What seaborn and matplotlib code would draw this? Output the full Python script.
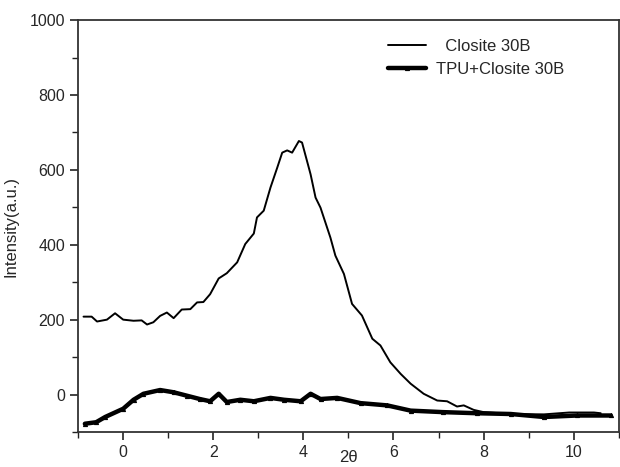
import matplotlib
matplotlib.use("Agg")
import matplotlib.pyplot as plt
import numpy as np
import pandas as pd
import seaborn as sns
from matplotlib.ticker import MultipleLocator

# Closite 30B
closite_x = [-0.88, -0.70, -0.58, -0.36, -0.18, 0.00, 0.23, 0.41, 0.53, 0.67, 0.82, 0.97,
             1.12, 1.30, 1.49, 1.64, 1.78, 1.93, 2.12, 2.30, 2.53, 2.71, 2.90, 2.97, 3.12,
             3.27, 3.42, 3.53, 3.64, 3.75, 3.90, 3.97, 4.12, 4.16, 4.27, 4.38, 4.60, 4.71,
             4.90, 5.08, 5.30, 5.53, 5.71, 5.93, 6.16, 6.38, 6.67, 6.97, 7.19, 7.41, 7.56,
             7.78, 8.00, 8.60, 9.34, 9.90, 10.45, 10.60]
closite_y = [208, 208, 195, 200, 217, 200, 197, 198, 187, 193, 210, 219,
             204, 227, 228, 246, 247, 268, 310, 324, 353, 402, 430, 473, 491,
             553, 606, 646, 652, 646, 677, 673, 606, 588, 526, 499, 419, 371,
             322, 242, 211, 149, 131, 86, 55, 29, 2, -16, -18, -32, -29,
             -41, -47, -52, -53, -48, -48, -50]

# TPU+Closite 30B
tpu_x = [-0.85, -0.60, -0.40, 0.00, 0.23, 0.45, 0.82, 1.12, 1.41, 1.70, 1.93, 2.12,
         2.30, 2.60, 2.90, 3.27, 3.57, 3.94, 4.16, 4.38, 4.75, 5.27, 5.86, 6.38,
         7.10, 7.86, 8.60, 9.34, 10.08, 10.82]
tpu_y = [-78, -74, -60, -38, -14, 2, 12, 6, -3, -12, -18, 2,
         -20, -14, -18, -9, -14, -18, 2, -12, -9, -23, -29, -43,
         -47, -50, -52, -60, -56, -56]

x_ticks = [0, 2, 4, 6, 8, 10]
y_ticks = [0, 200, 400, 600, 800, 1000]

sns.set_theme(style="ticks")
plt.rcParams['font.family'] = ['Liberation Sans', 'DejaVu Sans']

df1 = pd.DataFrame({'x': closite_x, 'y': closite_y})
df2 = pd.DataFrame({'x': tpu_x, 'y': tpu_y})

fig = plt.figure(figsize=(6.2, 4.67), dpi=100)
ax = fig.add_axes([0.126, 0.075, 0.872, 0.882])

sns.lineplot(data=df1, x='x', y='y', ax=ax, color='black', lw=1.4,
             label='  Closite 30B', sort=False)
sns.lineplot(data=df2, x='x', y='y', ax=ax, color='black', lw=3.2,
             marker='^', markersize=3, markeredgecolor='black',
             label='TPU+Closite 30B', sort=False)

ax.set_xlim(-1, 11)
ax.set_ylim(-100, 1000)
ax.set_xticks(x_ticks)
ax.set_yticks(y_ticks)
ax.xaxis.set_minor_locator(MultipleLocator(1))
ax.yaxis.set_minor_locator(MultipleLocator(100))
ax.tick_params(which='both', top=False, right=False)
ax.tick_params(which='major', direction='out', length=6, width=1.2, labelsize=11.5, color='#222222')
ax.tick_params(which='minor', direction='out', length=4, width=1.0, color='#222222')
for sp in ax.spines.values():
    sp.set_linewidth(1.3)
    sp.set_color('#333333')

ax.set_xlabel('2θ', fontsize=12, labelpad=-7)
ax.set_ylabel('Intensity(a.u.)', fontsize=12, labelpad=8)

ax.legend(loc='upper left', bbox_to_anchor=(0.545, 0.99), frameon=False,
          fontsize=12, handlelength=2.3, labelspacing=0.45, handletextpad=0.6)

fig.savefig('out.png', dpi=100)
